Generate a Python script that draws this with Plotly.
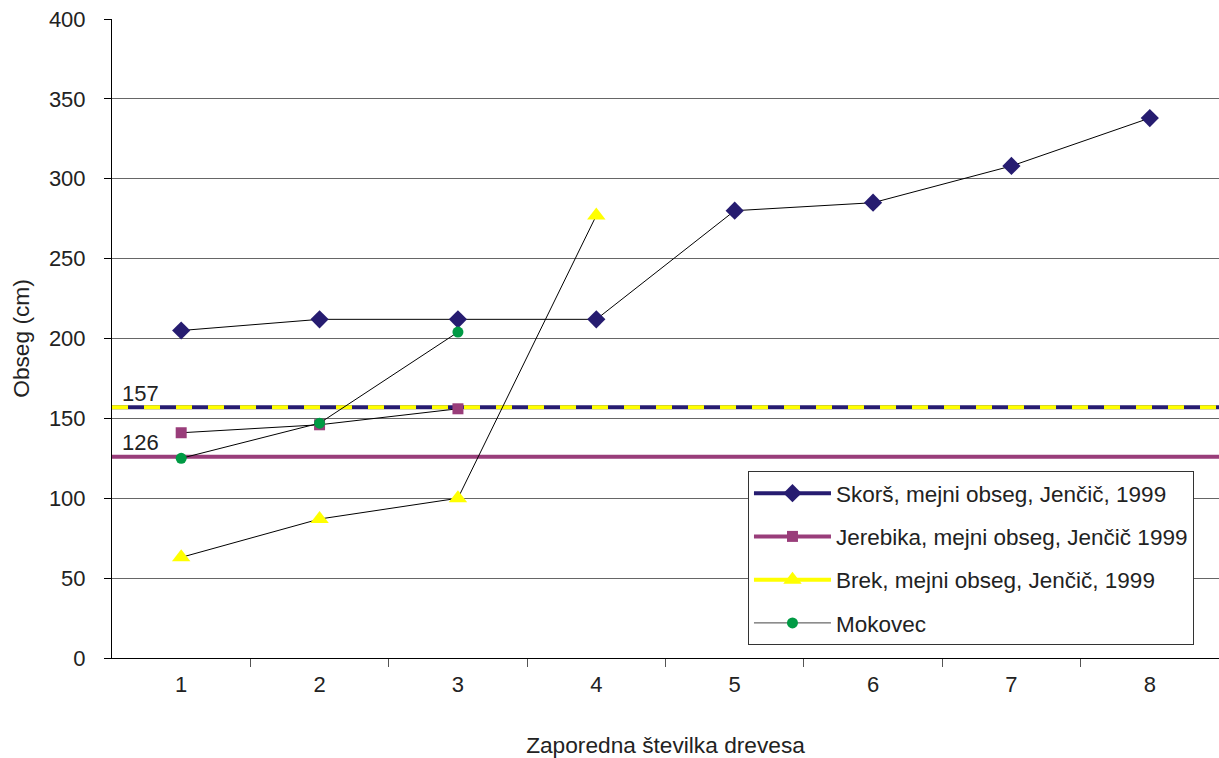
import plotly.graph_objects as go

trees = [1, 2, 3, 4, 5, 6, 7, 8]
skors = [205, 212, 212, 212, 280, 285, 308, 338]
jerebika = [141, 146, 156]
brek = [63, 87, 100, 277]
mokovec = [125, 147, 204]
limit_skors_brek = 157
limit_jerebika = 126

navy = "#261c70"
purple = "#993d7a"
yellow = "#ffff00"
green = "#009a44"
font = "Liberation Sans, Arial, sans-serif"

fig = go.Figure()

# threshold lines
fig.add_trace(go.Scatter(x=[0.5, 8.5], y=[limit_jerebika] * 2, mode="lines",
                         line=dict(color=purple, width=4), showlegend=False, hoverinfo="skip"))
fig.add_trace(go.Scatter(x=[0.5, 8.5], y=[limit_skors_brek] * 2, mode="lines",
                         line=dict(color=navy, width=4), showlegend=False, hoverinfo="skip"))
fig.add_trace(go.Scatter(x=[0.5, 8.5], y=[limit_skors_brek] * 2, mode="lines",
                         line=dict(color=yellow, width=4, dash="16px,16px"), showlegend=False, hoverinfo="skip"))

series = [
    ("Skorš, mejni obseg, Jenčič, 1999", skors, navy, "diamond", 14, 4),
    ("Jerebika, mejni obseg, Jenčič 1999", jerebika, purple, "square", 11, 4),
    ("Brek, mejni obseg, Jenčič, 1999", brek, yellow, "triangle-up", 16, 4),
    ("Mokovec", mokovec, green, "circle", 11, 1),
]

for name, vals, col, sym, sz, lw in series:
    fig.add_trace(go.Scatter(x=trees[:len(vals)], y=vals, mode="lines+markers",
                             line=dict(color="black", width=1),
                             marker=dict(color=col, symbol=sym, size=sz, line=dict(width=0)),
                             showlegend=False, name=name))

for i, (name, vals, col, sym, sz, lw) in enumerate(series):
    fig.add_trace(go.Scatter(x=[None], y=[None], mode="lines+markers", name=name,
                             legendgroup=str(i),
                             line=dict(color=col if lw > 1 else "#444444", width=lw),
                             marker=dict(color=col, symbol=sym, size=sz, line=dict(width=0))))

fig.add_annotation(x=0.5, y=limit_skors_brek, xref="x", yref="y", text=str(limit_skors_brek),
                   showarrow=False, xanchor="left", yanchor="bottom", xshift=8, yshift=-1,
                   font=dict(size=22, color="#222222", family=font))
fig.add_annotation(x=0.5, y=limit_jerebika, xref="x", yref="y", text=str(limit_jerebika),
                   showarrow=False, xanchor="left", yanchor="bottom", xshift=8, yshift=0,
                   font=dict(size=22, color="#222222", family=font))

fig.update_layout(
    width=1219, height=758,
    margin=dict(l=112, r=0, t=19, b=100),
    paper_bgcolor="white", plot_bgcolor="white",
    font=dict(family=font, size=22, color="#222222"),
    legend=dict(x=0.5745, y=0.2926, xanchor="left", yanchor="top",
                bgcolor="white", bordercolor="#333333", borderwidth=1,
                font=dict(size=22.5, family=font, color="#222222"),
                traceorder="grouped", tracegroupgap=11, itemwidth=77),
    xaxis=dict(range=[0.5, 8.5], tickvals=trees, ticktext=[str(t) for t in trees],
               ticks="", showgrid=False, zeroline=False, showline=True,
               linecolor="black", linewidth=1,
               tickfont=dict(size=22), ticklabelstandoff=7,
               minor=dict(tickvals=[1.5, 2.5, 3.5, 4.5, 5.5, 6.5, 7.5], ticks="outside",
                          ticklen=8, tickcolor="#555555", showgrid=False),
               title=dict(text="Zaporedna številka drevesa", font=dict(size=22.7), standoff=40)),
    yaxis=dict(range=[0, 400], tickvals=list(range(0, 401, 50)), ticks="outside",
               ticklen=7, tickcolor="black", showgrid=True, gridcolor="#666666", gridwidth=1,
               zeroline=False, showline=True, linecolor="black", linewidth=1,
               tickfont=dict(size=22), ticklabelstandoff=14,
               title=dict(text="Obseg (cm)", font=dict(size=22.7), standoff=12)),
)

fig.write_html("out.html")
